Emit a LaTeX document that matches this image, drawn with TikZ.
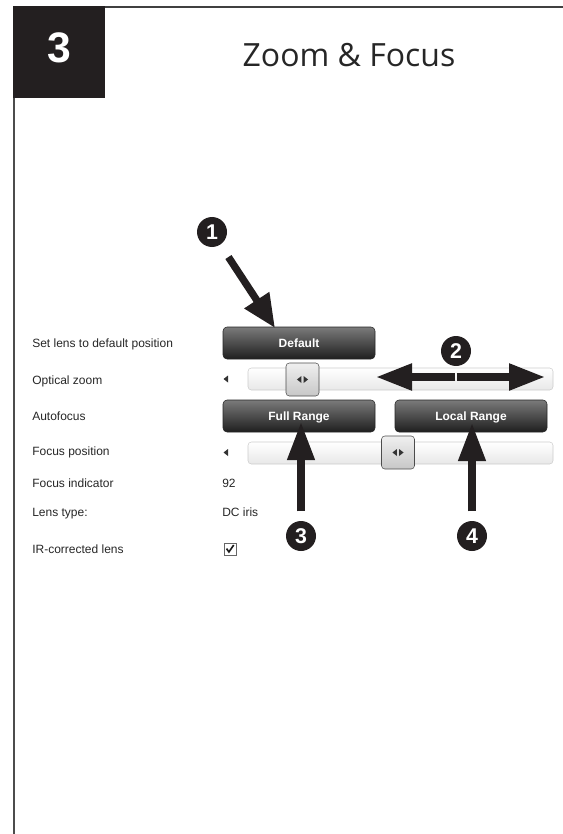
\documentclass[tikz,border=0pt]{standalone}
\usepackage{fontspec}
\setmainfont{Liberation Sans}
\newfontfamily\titlefont{Open Sans}
\usetikzlibrary{arrows.meta}
\definecolor{arrowc}{HTML}{231F20}
\tikzset{
 lbl/.style={anchor=base west, inner sep=0, font=\fontsize{9}{10}\selectfont, text=black!85},
 btn/.style={draw=black!85, rounded corners=3pt, top color=black!52, bottom color=black!88,
   minimum width=114pt, minimum height=24pt, inner sep=0, text=white,
   font=\bfseries\fontsize{9}{10}\selectfont, text height=6.4pt, text depth=0pt},
 track/.style={draw=black!20, rounded corners=2.5pt, top color=white, bottom color=black!9,
   minimum width=228.75pt, minimum height=16.5pt, inner sep=0},
 thumb/.style={draw=black!70, rounded corners=2.5pt, top color=black!6, bottom color=black!22,
   minimum width=24.75pt, minimum height=24.75pt, inner sep=0},
 badge/.style={circle, fill=arrowc, minimum size=22.5pt, inner sep=0, text=white,
   font=\bfseries\fontsize{16}{16}\selectfont},
 pointer/.style={draw=arrowc, line width=5.5pt},
 tri/.style={fill=black!80},
}
\begin{document}
\begin{tikzpicture}[x=0.75pt,y=-0.75pt]
\useasboundingbox (0,0) rectangle (563,834);
% frame
\draw[black!75, line width=0.9pt] (13,7) -- (563,7);
\draw[black!70, line width=1.5pt] (14,98) -- (14,834);
\fill[arrowc] (13,6.5) rectangle (105,98);
\node[text=white, font=\bfseries\fontsize{32}{32}\selectfont, inner sep=0] (num) at (59,48) {3};
\node[anchor=base, inner sep=0, text=black!85, font=\titlefont\fontsize{24}{26}\selectfont] (title) at (349,67) {Zoom \& Focus};
% labels
\node[lbl] (l1) at (32,347) {Set lens to default position};
\node[lbl] (l2) at (32,384) {Optical zoom};
\node[lbl] (l3) at (32,420.5) {Autofocus};
\node[lbl] (l4) at (32,455.5) {Focus position};
\node[lbl] (l5) at (32,487) {Focus indicator};
\node[lbl] (l6) at (32,516.5) {Lens type:};
\node[lbl] (l7) at (32,553.5) {IR-corrected lens};
\node[lbl] (v5) at (222,487) {92};
\node[lbl] (v6) at (222,516.5) {DC iris};
% buttons
\node[btn] (bdef) at (299,343) {Default};
\node[btn] (bfull) at (299,416) {Full Range};
\node[btn] (blocal) at (471,416) {Local Range};
% sliders
\node[track] (z1) at (400.5,379) {};
\node[track] (z2) at (400.5,453) {};
\fill[tri] (223.5,379) -- ++(4.5,-3.5) -- ++(0,7) -- cycle;
\fill[tri] (223.5,452.5) -- ++(4.5,-3.5) -- ++(0,7) -- cycle;
\node[thumb] (th1) at (302.5,379.5) {};
\node[thumb] (th2) at (398,452.5) {};
\foreach \t in {th1,th2} {
  \fill[tri] ([xshift=-0.8pt]\t.center) -- ++(0,-3.5) -- ++(-4.5,3.5) -- ++(4.5,3.5) -- cycle;
  \fill[tri] ([xshift=0.8pt]\t.center) -- ++(0,-3.5) -- ++(4.5,3.5) -- ++(-4.5,3.5) -- cycle;
}
% checkbox
\node[draw=black!60, fill=white, minimum size=9pt, inner sep=0] (cb) at (230,549) {};
\draw[black!90, line width=1.2pt] ([xshift=-2.6pt,yshift=0.3pt]cb.center) -- ([xshift=-0.8pt,yshift=-2.2pt]cb.center) -- ([xshift=2.8pt,yshift=3pt]cb.center);
% badges
\node[badge] (c1) at (212,232) {1};
\node[badge] (c2) at (456,351) {2};
\node[badge] (c3) at (301,536) {3};
\node[badge] (c4) at (472,536) {4};
% pointer targets
\coordinate (t1) at (275,328);
\coordinate (m2) at (456,377);
\coordinate (l2t) at (376,377);
\coordinate (r2t) at (545,377);
\coordinate (t3) at (301,422);
\coordinate (t4) at (472,423);
% pointers
\draw[pointer, -{Triangle[length=25pt,width=21pt]}, shorten <=11pt] (c1) -- (t1);
\draw[pointer, -{Triangle[length=27pt,width=19pt]}, shorten <=0.5pt] (m2) -- (l2t);
\draw[pointer, -{Triangle[length=27pt,width=19pt]}, shorten <=0.5pt] (m2) -- (r2t);
\draw[pointer, -{Triangle[length=28.5pt,width=19.5pt]}, shorten <=7pt] (c3) -- (t3);
\draw[pointer, -{Triangle[length=28.5pt,width=19.5pt]}, shorten <=7pt] (c4) -- (t4);
\end{tikzpicture}
\end{document}
